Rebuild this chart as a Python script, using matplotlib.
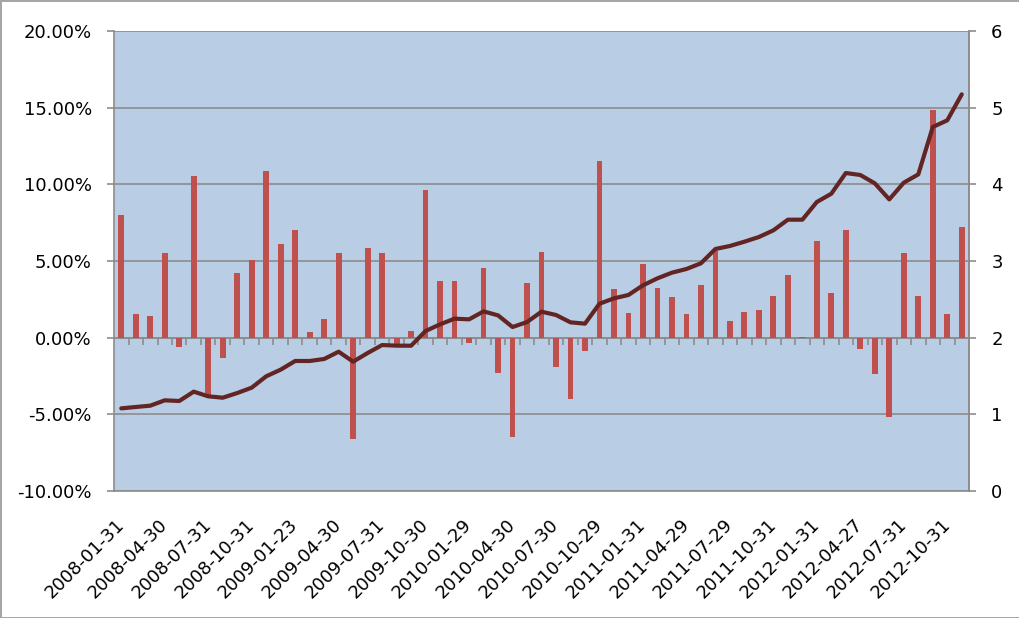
import matplotlib.pyplot as plt
from matplotlib.ticker import FuncFormatter

plt.rcParams['font.family'] = ['DejaVu Sans']

# monthly returns (%), 59 months
returns = [8.0, 1.52, 1.43, 5.5, -0.61, 10.52, -3.8, -1.3, 4.24, 5.07,
           10.87, 6.13, 7.0, 0.39, 1.24, 5.5, -6.59, 5.87, 5.54, -0.4,
           0.43, 9.6, 3.7, 3.7, -0.33, 4.57, -2.33, -6.48, 3.59, 5.57,
           -1.91, -4.02, -0.87, 11.52, 3.17, 1.61, 4.83, 3.22, 2.65, 1.52,
           3.43, 5.65, 1.09, 1.67, 1.78, 2.7, 4.09, 0.04, 6.3, 2.93,
           7.0, -0.76, -2.39, -5.17, 5.52, 2.7, 14.83, 1.52, 7.22]

# cumulative value (right axis)
cumulative = [1.078, 1.096, 1.113, 1.183, 1.174, 1.296, 1.235, 1.217, 1.278, 1.348,
              1.496, 1.583, 1.696, 1.696, 1.722, 1.817, 1.687, 1.80, 1.904, 1.896,
              1.895, 2.087, 2.174, 2.248, 2.239, 2.343, 2.291, 2.139, 2.204, 2.339,
              2.296, 2.20, 2.183, 2.443, 2.513, 2.557, 2.683, 2.774, 2.848, 2.896,
              2.97, 3.157, 3.196, 3.252, 3.313, 3.40, 3.539, 3.539, 3.77, 3.878,
              4.148, 4.122, 4.013, 3.804, 4.022, 4.13, 4.748, 4.835, 5.174]

date_labels = ['2008-01-31', '2008-04-30', '2008-07-31', '2008-10-31', '2009-01-23',
               '2009-04-30', '2009-07-31', '2009-10-30', '2010-01-29', '2010-04-30',
               '2010-07-30', '2010-10-29', '2011-01-31', '2011-04-29', '2011-07-29',
               '2011-10-31', '2012-01-31', '2012-04-27', '2012-07-31', '2012-10-31']

grey = '#8c8c8c'
x = list(range(len(returns)))

fig = plt.figure(figsize=(10.2, 6.18), dpi=100)
fig.patch.set_edgecolor('#a6a6a6')
fig.patch.set_linewidth(2)
ax = fig.add_axes([0.1118, 0.2055, 0.8382, 0.7443])
ax.set_facecolor('#b9cde5')

ax.bar(x, returns, width=0.4, color='#c0504d', zorder=3)
ax.set_xlim(-0.5, len(returns) - 0.5)
ax.set_ylim(-10, 20)
ax.set_yticks([-10, -5, 0, 5, 10, 15, 20])
ax.yaxis.set_major_formatter(FuncFormatter(lambda v, p: f'{v:.2f}%'))
ax.grid(axis='y', color=grey, linewidth=1.2, zorder=1)
ax.set_axisbelow(True)

# category axis crossing at zero
ax.spines['bottom'].set_position(('data', 0))
ax.spines['bottom'].set_color(grey)
ax.spines['bottom'].set_linewidth(1.2)
ax.set_xticks([i + 0.5 for i in x[:-1]])
ax.tick_params(axis='x', direction='out', length=5, width=1.2, color=grey,
               labelbottom=False)
ax.tick_params(axis='y', direction='out', length=5, width=1.2, color=grey,
               labelsize=13, pad=11)
for s in ['left', 'right', 'top']:
    ax.spines[s].set_color(grey)
    ax.spines[s].set_linewidth(1.2)
ax.spines['top'].set_visible(False)

# date labels at the bottom edge
sec = ax.secondary_xaxis(0.0)
sec.set_xticks(x[::3])
sec.set_xticklabels(date_labels, rotation=45, ha='right', va='center',
                    rotation_mode='anchor')
sec.tick_params(length=0, labelsize=13, pad=22)
sec.spines['bottom'].set_color(grey)
sec.spines['bottom'].set_linewidth(1.2)

ax2 = ax.twinx()
ax2.plot(x, cumulative, color='#632523', linewidth=3, solid_capstyle='round',
         zorder=4)
ax2.set_ylim(0, 6)
ax2.set_yticks(range(7))
ax2.tick_params(axis='y', direction='out', length=5, width=1.2, color=grey,
                labelsize=13, pad=11)
for s in ['left', 'right', 'top', 'bottom']:
    ax2.spines[s].set_visible(False)
ax2.spines['right'].set_visible(True)
ax2.spines['right'].set_color(grey)
ax2.spines['right'].set_linewidth(1.2)

fig.savefig('out.png', dpi=100)
